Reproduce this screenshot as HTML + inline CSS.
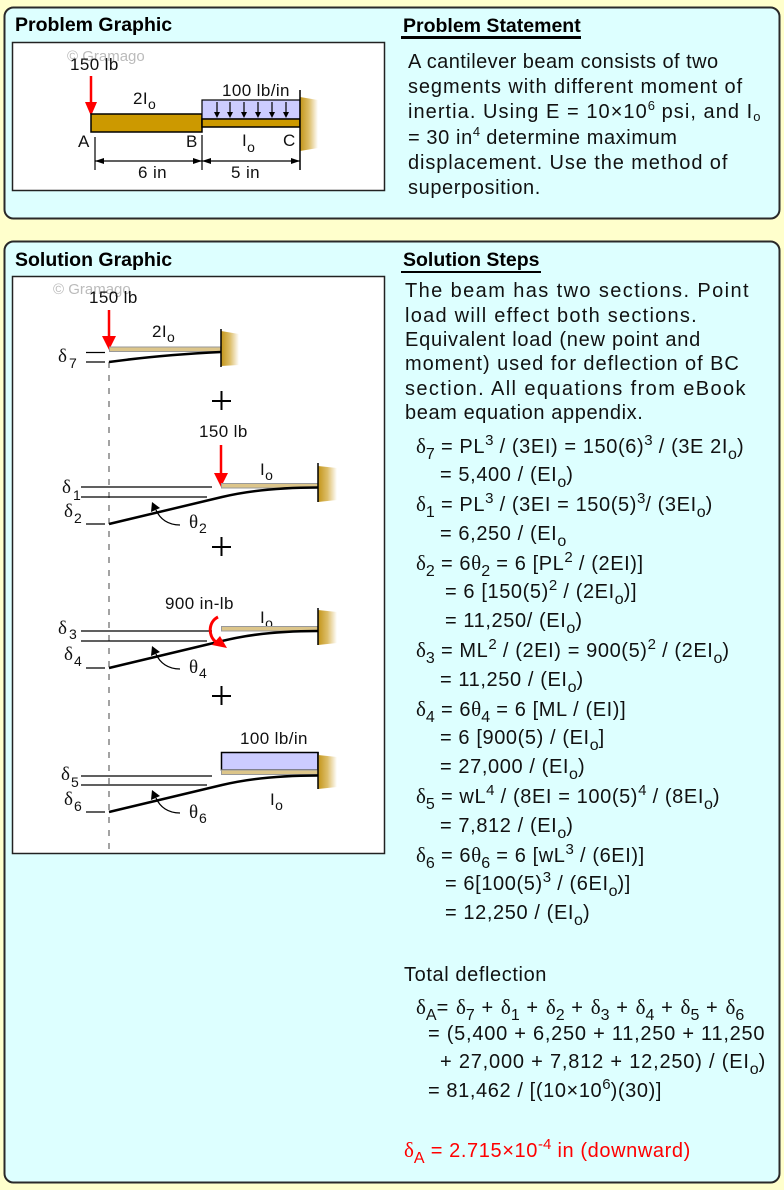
<!DOCTYPE html>
<html><head><meta charset="utf-8"><style>
html,body{margin:0;padding:0}
body{width:784px;height:1190px;overflow:hidden;background:#FFFFCC;position:relative;font-family:"Liberation Sans",Arial,sans-serif;color:#111}
.t{position:absolute;white-space:nowrap;font-size:20px;line-height:20px;letter-spacing:0.6px}
.h{position:absolute;white-space:nowrap;font-size:19.5px;line-height:20px;font-weight:bold;color:#000}
.ul{position:absolute;height:2.5px;background:#000}
.sb{font-size:16px;position:relative;top:6px;letter-spacing:0}
.sp{font-size:15px;position:relative;top:-8px;letter-spacing:0}
.d{font-family:"Liberation Serif",serif;font-size:21px;letter-spacing:0}
.ps{font-size:13px;position:relative;top:-8px;letter-spacing:0}
.pb{font-size:13px;position:relative;top:3px;letter-spacing:0}
svg text{font-family:"Liberation Sans",Arial,sans-serif}
.lb{font-size:17px;letter-spacing:0.4px;fill:#111}
.gk{font-family:"Liberation Serif",serif;font-size:19px;fill:#111}
.sm{font-size:14px;fill:#111}
</style></head><body>
<svg width="784" height="1190" style="position:absolute;left:0;top:0">
<defs>
<linearGradient id="wg" x1="0" x2="1" y1="0" y2="0">
<stop offset="0" stop-color="#C39518"/><stop offset="0.5" stop-color="#DDBE6A"/><stop offset="1" stop-color="#FFFFFF"/>
</linearGradient>
</defs>
<!-- panels -->
<rect x="4.5" y="7.5" width="775" height="211" rx="9" fill="#DDFFFF" stroke="#2a2a2a" stroke-width="2"/>
<rect x="4.5" y="241.5" width="775" height="941" rx="9" fill="#DDFFFF" stroke="#2a2a2a" stroke-width="2"/>
<rect x="12.5" y="42.5" width="372" height="148" fill="#fff" stroke="#222" stroke-width="1.5"/>
<rect x="12.5" y="276.5" width="372" height="577" fill="#fff" stroke="#222" stroke-width="1.5"/>

<!-- ===== Problem graphic ===== -->
<text x="67" y="61" font-size="15" fill="#bbbbbb">© Gramago</text>
<text x="70" y="70" class="lb">150 lb</text>
<line x1="91" y1="76" x2="91" y2="104" stroke="#FF0000" stroke-width="2.5"/>
<polygon points="85,102 97,102 91,116" fill="#FF0000"/>
<rect x="91" y="114" width="111" height="18" fill="#CC9900" stroke="#000" stroke-width="1.5"/>
<rect x="202" y="100" width="98" height="19" fill="#CCCCFF" stroke="#000" stroke-width="1.2"/>
<rect x="202" y="119" width="98" height="8" fill="#CC9900" stroke="#000" stroke-width="1.5"/>
<g stroke="#000" stroke-width="1.2">
<line x1="217" y1="102" x2="217" y2="113"/><line x1="230" y1="102" x2="230" y2="113"/>
<line x1="244" y1="102" x2="244" y2="113"/><line x1="258" y1="102" x2="258" y2="113"/>
<line x1="272" y1="102" x2="272" y2="113"/><line x1="286" y1="102" x2="286" y2="113"/>
</g>
<g fill="#000">
<polygon points="214,112 220,112 217,118"/><polygon points="227,112 233,112 230,118"/>
<polygon points="241,112 247,112 244,118"/><polygon points="255,112 261,112 258,118"/>
<polygon points="269,112 275,112 272,118"/><polygon points="283,112 289,112 286,118"/>
</g>
<polygon points="300,97 318,100 318,148 300,151" fill="url(#wg)"/>
<line x1="300" y1="90" x2="300" y2="170" stroke="#000" stroke-width="1.5"/>
<text x="222" y="96" class="lb">100 lb/in</text>
<text x="133" y="104" class="lb">2I<tspan font-size="14" dy="5">o</tspan></text>
<text x="78" y="147" class="lb">A</text>
<text x="186" y="147" class="lb">B</text>
<text x="283" y="146" class="lb">C</text>
<text x="242" y="146" class="lb">I<tspan font-size="14" dy="6">o</tspan></text>
<line x1="95" y1="137" x2="95" y2="170" stroke="#000" stroke-width="1.2"/>
<line x1="202" y1="135" x2="202" y2="170" stroke="#000" stroke-width="1.2"/>
<line x1="95" y1="161" x2="300" y2="161" stroke="#000" stroke-width="1.2"/>
<g fill="#000">
<polygon points="95,161 104,158 104,164"/><polygon points="202,161 193,158 193,164"/>
<polygon points="202,161 211,158 211,164"/><polygon points="300,161 291,158 291,164"/>
</g>
<text x="138" y="178" class="lb">6 in</text>
<text x="231" y="178" class="lb">5 in</text>

<!-- ===== Solution graphic ===== -->
<text x="53" y="294" font-size="15" fill="#bbbbbb">© Gramago</text>
<line x1="109" y1="362" x2="109" y2="853" stroke="#666" stroke-width="1.2" stroke-dasharray="6,7"/>

<!-- section 1 -->
<text x="89" y="303" class="lb">150 lb</text>
<line x1="109" y1="310" x2="109" y2="338" stroke="#FF0000" stroke-width="2.5"/>
<polygon points="102,336 116,336 109,350" fill="#FF0000"/>
<text x="152" y="337" class="lb">2I<tspan font-size="14" dy="5">o</tspan></text>
<rect x="109.5" y="347" width="111.5" height="4.5" fill="#DCC58A" stroke="#999" stroke-width="1"/>
<path d="M109,362 Q160,355 221,352" fill="none" stroke="#000" stroke-width="2.5"/>
<polygon points="221,331 239,334 239,365 221,366" fill="url(#wg)"/>
<line x1="221" y1="329" x2="221" y2="367" stroke="#000" stroke-width="1.5"/>
<line x1="86" y1="352.5" x2="105" y2="352.5" stroke="#000" stroke-width="1.3"/>
<line x1="86" y1="362" x2="105" y2="362" stroke="#000" stroke-width="1.3"/>
<text x="58" y="362" class="gk">δ</text><text x="69" y="368" class="sm">7</text>
<g stroke="#000" stroke-width="2"><line x1="212" y1="401" x2="231" y2="401"/><line x1="221.5" y1="391" x2="221.5" y2="410"/></g>

<!-- section 2 -->
<text x="199" y="437" class="lb">150 lb</text>
<line x1="221" y1="445" x2="221" y2="475" stroke="#FF0000" stroke-width="2.5"/>
<polygon points="214,473 228,473 221,487" fill="#FF0000"/>
<text x="260" y="475" class="lb">I<tspan font-size="14" dy="5">o</tspan></text>
<rect x="221.5" y="483.5" width="96.5" height="4.5" fill="#DCC58A" stroke="#999" stroke-width="1"/>
<polygon points="318,466 337,468 337,500 318,502" fill="url(#wg)"/>
<line x1="318" y1="463" x2="318" y2="502" stroke="#000" stroke-width="1.5"/>
<path d="M318,487.5 Q262,487.5 222,497 L109,524" fill="none" stroke="#000" stroke-width="2.5"/>
<line x1="81" y1="487" x2="212" y2="487" stroke="#000" stroke-width="1.3"/>
<line x1="81" y1="497" x2="207" y2="497" stroke="#000" stroke-width="1.3"/>
<line x1="86" y1="524" x2="105" y2="524" stroke="#000" stroke-width="1.3"/>
<text x="62" y="493" class="gk">δ</text><text x="73" y="500" class="sm">1</text>
<text x="64" y="517" class="gk">δ</text><text x="74" y="523" class="sm">2</text>
<path d="M180,525 C168,525 160,519 156,510" fill="none" stroke="#000" stroke-width="1.3"/>
<polygon points="152,502 151,512 160,508" fill="#000"/>
<text x="189" y="528" class="gk">θ</text><text x="199" y="533" class="sm">2</text>
<g stroke="#000" stroke-width="2"><line x1="212" y1="547" x2="231" y2="547"/><line x1="221.5" y1="537" x2="221.5" y2="556"/></g>

<!-- section 3 -->
<text x="165" y="609" class="lb">900 in-lb</text>
<text x="260" y="623" class="lb">I<tspan font-size="14" dy="5">o</tspan></text>
<rect x="221.5" y="626.5" width="96.5" height="4.5" fill="#DCC58A" stroke="#999" stroke-width="1"/>
<polygon points="318,610 337,612 337,643 318,645" fill="url(#wg)"/>
<line x1="318" y1="608" x2="318" y2="645" stroke="#000" stroke-width="1.5"/>
<path d="M318,631 Q262,631 222,641 L109,668" fill="none" stroke="#000" stroke-width="2.5"/>
<line x1="81" y1="631" x2="212" y2="631" stroke="#000" stroke-width="1.3"/>
<line x1="81" y1="641" x2="207" y2="641" stroke="#000" stroke-width="1.3"/>
<line x1="86" y1="668" x2="105" y2="668" stroke="#000" stroke-width="1.3"/>
<path d="M218,617 C208,622 208,636 216,642" fill="none" stroke="#FF0000" stroke-width="3"/>
<polygon points="227,648 212,645 220,636" fill="#FF0000"/>
<text x="58" y="634" class="gk">δ</text><text x="69" y="639" class="sm">3</text>
<text x="64" y="660" class="gk">δ</text><text x="74" y="666" class="sm">4</text>
<path d="M180,669 C168,669 160,663 156,654" fill="none" stroke="#000" stroke-width="1.3"/>
<polygon points="152,646 151,656 160,652" fill="#000"/>
<text x="189" y="673" class="gk">θ</text><text x="199" y="678" class="sm">4</text>
<g stroke="#000" stroke-width="2"><line x1="212" y1="696" x2="231" y2="696"/><line x1="221.5" y1="686" x2="221.5" y2="705"/></g>

<!-- section 4 -->
<text x="240" y="744" class="lb">100 lb/in</text>
<rect x="221.5" y="752.5" width="96.5" height="17.5" fill="#CCCCFF" stroke="#000" stroke-width="1.5"/>
<rect x="221.5" y="770" width="96.5" height="4.5" fill="#DCC58A" stroke="#999" stroke-width="1"/>
<polygon points="318,755 337,757 337,787 318,789" fill="url(#wg)"/>
<line x1="318" y1="752" x2="318" y2="789" stroke="#000" stroke-width="1.5"/>
<path d="M318,775.5 Q262,775.5 222,785 L109,812" fill="none" stroke="#000" stroke-width="2.5"/>
<line x1="81" y1="776" x2="212" y2="776" stroke="#000" stroke-width="1.3"/>
<line x1="81" y1="785" x2="207" y2="785" stroke="#000" stroke-width="1.3"/>
<line x1="86" y1="812" x2="105" y2="812" stroke="#000" stroke-width="1.3"/>
<text x="270" y="805" class="lb">I<tspan font-size="14" dy="5">o</tspan></text>
<text x="61" y="780" class="gk">δ</text><text x="71" y="787" class="sm">5</text>
<text x="64" y="805" class="gk">δ</text><text x="74" y="811" class="sm">6</text>
<path d="M180,813 C168,813 160,807 156,798" fill="none" stroke="#000" stroke-width="1.3"/>
<polygon points="152,790 151,800 160,796" fill="#000"/>
<text x="189" y="818" class="gk">θ</text><text x="199" y="823" class="sm">6</text>
</svg>

<!-- headings -->
<div class="h" style="left:15px;top:15px">Problem Graphic</div>
<div class="h" style="left:403px;top:16px">Problem Statement</div>
<div class="ul" style="left:401px;top:36px;width:180px"></div>
<div class="h" style="left:15px;top:250px">Solution Graphic</div>
<div class="h" style="left:403px;top:250px">Solution Steps</div>
<div class="ul" style="left:401px;top:270.5px;width:140px"></div>

<!-- problem statement -->
<div class="t" style="left:408px;top:52px;letter-spacing:0.45px">A cantilever beam consists of two</div>
<div class="t" style="left:408px;top:77px;letter-spacing:0.9px">segments with different moment of</div>
<div class="t" style="left:408px;top:102px;letter-spacing:1.05px">inertia. Using E = 10×10<span class="ps">6</span> psi, and I<span class="pb">o</span></div>
<div class="t" style="left:408px;top:128px">= 30 in<span class="ps">4</span> determine maximum</div>
<div class="t" style="left:408px;top:153px;letter-spacing:0.9px">displacement. Use the method of</div>
<div class="t" style="left:408px;top:178px">superposition.</div>

<!-- solution steps -->
<div class="t" style="left:405px;top:281px;letter-spacing:1.4px">The beam has two sections. Point</div>
<div class="t" style="left:405px;top:306px;letter-spacing:1.25px">load will effect both sections.</div>
<div class="t" style="left:405px;top:330px;letter-spacing:0.75px">Equivalent load (new point and</div>
<div class="t" style="left:405px;top:354px;letter-spacing:0.95px">moment) used for deflection of BC</div>
<div class="t" style="left:405px;top:379px;letter-spacing:1.4px">section. All equations from eBook</div>
<div class="t" style="left:405px;top:403px">beam equation appendix.</div>

<div class="t" style="left:416px;top:436px"><span class="d">δ</span><span class="sb">7</span> = PL<span class="sp">3</span> / (3EI) = 150(6)<span class="sp">3</span> / (3E 2I<span class="sb">o</span>)</div>
<div class="t" style="left:440px;top:465px">= 5,400 / (EI<span class="sb">o</span>)</div>
<div class="t" style="left:416px;top:494px"><span class="d">δ</span><span class="sb">1</span> = PL<span class="sp">3</span> / (3EI = 150(5)<span class="sp">3</span>/ (3EI<span class="sb">o</span>)</div>
<div class="t" style="left:440px;top:524px">= 6,250 / (EI<span class="sb">o</span></div>
<div class="t" style="left:416px;top:553px"><span class="d">δ</span><span class="sb">2</span> = 6<span class="d">θ</span><span class="sb">2</span> = 6 [PL<span class="sp">2</span> / (2EI)]</div>
<div class="t" style="left:445px;top:582px">= 6 [150(5)<span class="sp">2</span> / (2EI<span class="sb">o</span>)]</div>
<div class="t" style="left:445px;top:611px">= 11,250/ (EI<span class="sb">o</span>)</div>
<div class="t" style="left:416px;top:640px"><span class="d">δ</span><span class="sb">3</span> = ML<span class="sp">2</span> / (2EI) = 900(5)<span class="sp">2</span> / (2EI<span class="sb">o</span>)</div>
<div class="t" style="left:440px;top:670px">= 11,250 / (EI<span class="sb">o</span>)</div>
<div class="t" style="left:416px;top:699px"><span class="d">δ</span><span class="sb">4</span> = 6<span class="d">θ</span><span class="sb">4</span> = 6 [ML / (EI)]</div>
<div class="t" style="left:440px;top:728px">= 6 [900(5) / (EI<span class="sb">o</span>]</div>
<div class="t" style="left:440px;top:757px">= 27,000 / (EI<span class="sb">o</span>)</div>
<div class="t" style="left:416px;top:786px"><span class="d">δ</span><span class="sb">5</span> = wL<span class="sp">4</span> / (8EI = 100(5)<span class="sp">4</span> / (8EI<span class="sb">o</span>)</div>
<div class="t" style="left:440px;top:816px">= 7,812 / (EI<span class="sb">o</span>)</div>
<div class="t" style="left:416px;top:845px"><span class="d">δ</span><span class="sb">6</span> = 6<span class="d">θ</span><span class="sb">6</span> = 6 [wL<span class="sp">3</span> / (6EI)]</div>
<div class="t" style="left:445px;top:874px">= 6[100(5)<span class="sp">3</span> / (6EI<span class="sb">o</span>)]</div>
<div class="t" style="left:445px;top:903px">= 12,250 / (EI<span class="sb">o</span>)</div>

<div class="t" style="left:404px;top:965px">Total deflection</div>
<div class="t" style="left:416px;top:997px;letter-spacing:1.1px"><span class="d">δ</span><span class="sb">A</span>= <span class="d">δ</span><span class="sb">7</span> + <span class="d">δ</span><span class="sb">1</span> + <span class="d">δ</span><span class="sb">2</span> + <span class="d">δ</span><span class="sb">3</span> + <span class="d">δ</span><span class="sb">4</span> + <span class="d">δ</span><span class="sb">5</span> + <span class="d">δ</span><span class="sb">6</span></div>
<div class="t" style="left:428px;top:1024px;letter-spacing:0.75px">= (5,400 + 6,250 + 11,250 + 11,250</div>
<div class="t" style="left:440px;top:1052px;letter-spacing:0.8px">+ 27,000 + 7,812 + 12,250) / (EI<span class="sb">o</span>)</div>
<div class="t" style="left:428px;top:1081px">= 81,462 / [(10×10<span class="sp">6</span>)(30)]</div>
<div class="t" style="left:404px;top:1140px;color:#FF0000"><span class="d">δ</span><span class="sb">A</span> = 2.715×10<span class="sp">-4</span> in (downward)</div>
</body></html>
